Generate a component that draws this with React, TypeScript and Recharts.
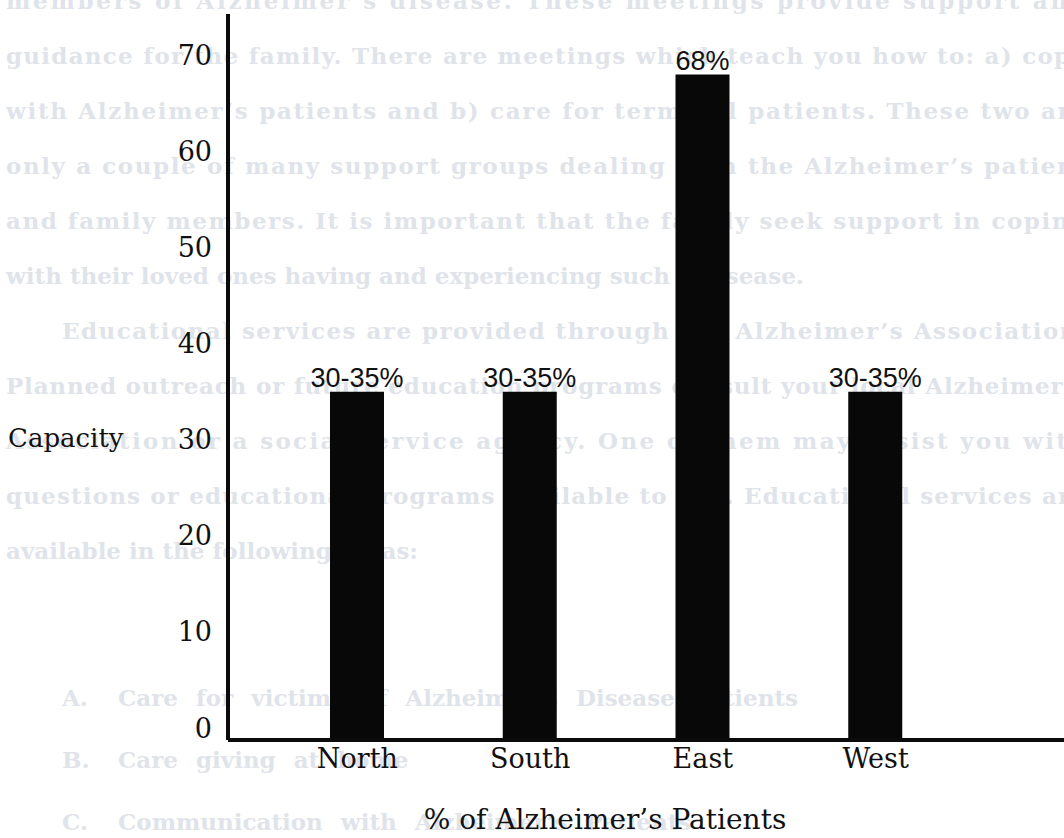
import React from 'react';
import { BarChart, Bar, XAxis, YAxis, Label, LabelList } from 'recharts';

// Regions on the category axis
const regions = ['North', 'South', 'East', 'West'];
// Capacity (% of Alzheimer's patients) per region
const capacityValues = [35, 35, 68, 35];
// Text printed above each bar
const valueLabels = ['30-35%', '30-35%', '68%', '30-35%'];
// Value axis ticks
const capacityTicks = [0, 10, 20, 30, 40, 50, 60, 70];
// The value axis runs a little below zero; bars reach down to the axis line
const AXIS_FLOOR = -1.25;
const AXIS_CEIL = 74.3;

// Page text printed behind the chart (faint show-through)
const paragraphOne = [
  'members of Alzheimer\u2019s disease. These meetings provide support and',
  'guidance for the family. There are meetings which teach you how to: a) cope',
  'with Alzheimer\u2019s patients and b) care for terminal patients. These two are',
  'only a couple of many support groups dealing with the Alzheimer\u2019s patient',
  'and family members. It is important that the family seek support in coping',
  'with their loved ones having and experiencing such a disease.',
];
const paragraphTwo = [
  'Educational services are provided through the Alzheimer\u2019s Association.',
  'Planned outreach or future education programs consult your local Alzheimer\u2019s',
  'Association or a social service agency. One of them may assist you with',
  'questions or educational programs available to you. Educational services are',
  'available in the following areas:',
];
const listMarkers = ['A.', 'B.', 'C.'];
const listItems = [
  'Care for victims of Alzheimer\u2019s Disease patients',
  'Care giving at home',
  'Communication with Alzheimer\u2019s Patients',
];

const data = regions.map((region, i) => ({
  region,
  capacity: capacityValues[i],
  label: valueLabels[i],
}));

const INK = '#0b0b0b';
const SERIF = '"DejaVu Serif", "Liberation Serif", serif';
const SANS = '"Liberation Sans", Arial, sans-serif';
const PAGE_W = 1064;
const PAGE_H = 838;

function PageBackdrop() {
  const pitch = 55;
  const color = '#dfe3ea';
  const common = {
    fill: color,
    fontFamily: SERIF,
    fontWeight: 700,
    fontSize: 23,
  } as const;
  const lines: React.ReactNode[] = [];
  paragraphOne.forEach((t, i) => {
    const last = i === paragraphOne.length - 1;
    lines.push(
      <text
        key={'p1-' + i}
        x={6}
        y={i * pitch + 9}
        {...common}
        {...(last ? {} : { textLength: 1080, lengthAdjust: 'spacing' })}
      >
        {t}
      </text>
    );
  });
  paragraphTwo.forEach((t, i) => {
    const row = paragraphOne.length + i;
    const last = i === paragraphTwo.length - 1;
    const x = i === 0 ? 62 : 6;
    lines.push(
      <text
        key={'p2-' + i}
        x={x}
        y={row * pitch + 9}
        {...common}
        {...(last ? {} : { textLength: 1086 - x, lengthAdjust: 'spacing' })}
      >
        {t}
      </text>
    );
  });
  listItems.forEach((t, i) => {
    const y = 706 + i * 62;
    lines.push(
      <text key={'m-' + i} x={62} y={y} {...common}>
        {listMarkers[i]}
      </text>
    );
    lines.push(
      <text key={'l-' + i} x={118} y={y} {...common} wordSpacing={10}>
        {t}
      </text>
    );
  });
  return (
    <svg
      width={PAGE_W}
      height={PAGE_H}
      style={{ position: 'absolute', left: 0, top: 0 }}
    >
      <rect width={PAGE_W} height={PAGE_H} fill="#ffffff" />
      {lines}
    </svg>
  );
}

export default function App() {
  return (
    <div
      style={{
        position: 'absolute',
        left: 0,
        top: 0,
        width: PAGE_W,
        height: PAGE_H,
        overflow: 'hidden',
        background: '#ffffff',
      }}
    >
      <PageBackdrop />
      <div style={{ position: 'absolute', left: 0, top: 0 }}>
        <BarChart
          width={PAGE_W}
          height={PAGE_H}
          data={data}
          margin={{ top: 14, right: 0, bottom: 0, left: 0 }}
          barSize={54}
        >
          <XAxis
            dataKey="region"
            type="category"
            interval={0}
            height={98}
            padding={{ left: 43, right: 102 }}
            axisLine={{ stroke: INK, strokeWidth: 4 }}
            tickLine={false}
            tickSize={0}
            tickMargin={9}
            tick={{ fill: '#111111', fontSize: 27, fontFamily: SERIF }}
          >
            <Label
              value={'% of Alzheimer\u2019s Patients'}
              position="insideBottom"
              offset={9}
              dx={-41}
              fill="#111111"
              fontSize={28}
              fontFamily={SERIF}
            />
          </XAxis>
          <YAxis
            type="number"
            domain={[AXIS_FLOOR, AXIS_CEIL]}
            allowDataOverflow
            ticks={capacityTicks}
            interval={0}
            width={228}
            axisLine={{ stroke: INK, strokeWidth: 4 }}
            tickLine={false}
            tickSize={0}
            tickMargin={16}
            tick={{ fill: '#111111', fontSize: 27, fontFamily: SERIF }}
          >
            <Label
              value="Capacity"
              position="insideLeft"
              offset={8}
              dy={61}
              fill="#111111"
              fontSize={26}
              fontFamily={SERIF}
            />
          </YAxis>
          <Bar
            dataKey={(d: { capacity: number }) => [AXIS_FLOOR, d.capacity]}
            fill="#080808"
            isAnimationActive={false}
          >
            <LabelList
              dataKey="label"
              position="top"
              offset={5}
              fill="#111111"
              fontSize={27}
              fontFamily={SANS}
            />
          </Bar>
        </BarChart>
      </div>
    </div>
  );
}
